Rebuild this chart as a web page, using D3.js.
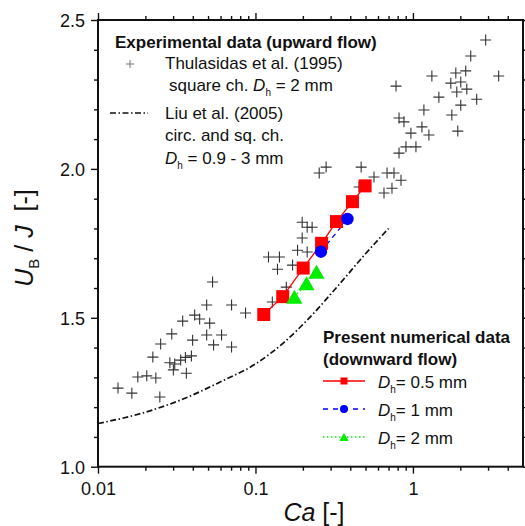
<!DOCTYPE html>
<html>
<head>
<meta charset="utf-8">
<script src="https://cdn.jsdelivr.net/npm/d3@7"></script>
<style>
  html, body { margin: 0; padding: 0; background: #fff; }
  svg { display: block; font-family: "Liberation Sans", Arial, sans-serif; }
</style>
</head>
<body>
<svg id="chart" width="525" height="526"></svg>
<script>
// Thulasidas et al. (1995), square channel, Dh = 2 mm
const thulasidasCa = [
  0.0134, 0.0164, 0.0179, 0.0204, 0.0233, 0.0247, 0.0223, 0.0250, 0.0294,
  0.0286, 0.0307, 0.0301, 0.0335, 0.0359, 0.0392, 0.0364, 0.0399, 0.0345,
  0.0411, 0.0442, 0.0512, 0.0490, 0.0542, 0.0609, 0.0705, 0.0490, 0.0534,
  0.0705, 0.0865, 0.128,
  0.121, 0.142, 0.138, 0.157, 0.172, 0.185, 0.213, 0.198, 0.198, 0.213,
  0.229, 0.254, 0.281, 0.455, 0.469, 0.566, 0.685, 0.758, 0.840, 0.736,
  0.655, 0.816, 0.903, 1.045, 0.971, 1.263, 0.816, 0.877, 1.140, 1.174,
  0.781, 1.319, 1.461, 1.766, 1.927, 2.013, 1.740, 1.899, 2.013, 2.198,
  1.872, 2.164, 2.541, 3.503, 2.328, 2.897
];
const thulasidasU = [
  1.264, 1.247, 1.301, 1.305, 1.298, 1.234, 1.368, 1.412, 1.446,
  1.349, 1.345, 1.325, 1.358, 1.367, 1.372, 1.314, 1.425, 1.489,
  1.509, 1.496, 1.482, 1.442, 1.409, 1.442, 1.402, 1.543, 1.620,
  1.543, 1.516, 1.553,
  1.704, 1.704, 1.663, 1.603, 1.677, 1.727, 1.721, 1.768, 1.821, 1.804,
  1.804, 1.986, 2.006, 1.939, 2.006, 1.973, 1.986, 1.986, 1.962, 1.935,
  1.919, 2.053, 2.074, 2.074, 2.120, 2.114, 2.171, 2.158, 2.141, 2.198,
  2.278, 2.312, 2.241, 2.181, 2.127, 2.214, 2.288, 2.258, 2.292, 2.268,
  2.322, 2.329, 2.234, 2.312, 2.379, 2.433
];

// Liu et al. (2005), circular and square channels
const liuCa = [0.01, 0.02, 0.035, 0.06, 0.1, 0.15, 0.22, 0.34, 0.5, 0.7];
const liuU = [1.145, 1.183, 1.228, 1.285, 1.345, 1.415, 1.50, 1.612, 1.715, 1.80];

// present numerical data (downward flow)
const dh05Ca = [0.1129, 0.149, 0.201, 0.263, 0.327, 0.413, 0.497];
const dh05U = [1.511, 1.571, 1.667, 1.750, 1.823, 1.890, 1.943];
const dh1Ca = [0.2605, 0.384];
const dh1U = [1.722, 1.832];
const dh2Ca = [0.1766, 0.211, 0.244];
const dh2U = [1.571, 1.616, 1.655];

const xTicks = [0.01, 0.1, 1];
const xTickLabels = ['0.01', '0.1', '1'];
const yTicks = [1.0, 1.5, 2.0, 2.5];
const yTickLabels = ['1.0', '1.5', '2.0', '2.5'];

const plotLeft = 98, plotRight = 523, plotTop = 20, plotBottom = 466.7;

const svg = d3.select('#chart');
const x = d3.scaleLog().domain([0.01, 5]).range([plotLeft, plotRight]);
const y = d3.scaleLinear().domain([1, 2.5]).range([plotBottom, plotTop]);

// minor ticks
const xMinor = [];
[0.01, 0.1, 1].forEach(dec => {
  d3.range(2, 10).forEach(k => {
    const v = dec * k;
    if (v < 5) xMinor.push(v);
  });
});
const yMinor = d3.range(11, 25).map(k => k / 10).filter(v => !yTicks.some(t => Math.abs(t - v) < 1e-9));

function styleAxis(g) {
  g.select('.domain').remove();
  g.selectAll('line').attr('stroke', '#111').attr('stroke-width', 1.4);
}

// bottom axis
svg.append('g').attr('transform', `translate(0,${plotBottom})`)
  .call(d3.axisBottom(x).tickValues(xMinor).tickSize(4).tickFormat(''))
  .call(styleAxis);
const xAxis = svg.append('g').attr('transform', `translate(0,${plotBottom})`)
  .call(d3.axisBottom(x).tickValues(xTicks).tickSize(7).tickFormat((d, i) => xTickLabels[i]))
  .call(styleAxis);
xAxis.selectAll('text')
  .attr('y', 28).attr('dy', 0)
  .attr('fill', '#111')
  .style('font-size', '18px')
  .style('font-family', '"Liberation Sans", Arial, sans-serif');

// top axis (ticks outward, no labels)
svg.append('g').attr('transform', `translate(0,${plotTop})`)
  .call(d3.axisTop(x).tickValues(xMinor).tickSize(4).tickFormat(''))
  .call(styleAxis);
svg.append('g').attr('transform', `translate(0,${plotTop})`)
  .call(d3.axisTop(x).tickValues(xTicks).tickSize(7).tickFormat(''))
  .call(styleAxis);

// left axis
svg.append('g').attr('transform', `translate(${plotLeft},0)`)
  .call(d3.axisLeft(y).tickValues(yMinor).tickSize(4).tickFormat(''))
  .call(styleAxis);
const yAxis = svg.append('g').attr('transform', `translate(${plotLeft},0)`)
  .call(d3.axisLeft(y).tickValues(yTicks).tickSize(7).tickFormat((d, i) => yTickLabels[i]))
  .call(styleAxis);
yAxis.selectAll('text')
  .attr('x', -13).attr('dy', '0.36em')
  .attr('fill', '#111')
  .style('font-size', '18px')
  .style('font-family', '"Liberation Sans", Arial, sans-serif');

// right axis (ticks inward)
svg.append('g').attr('transform', `translate(${plotRight},0)`)
  .call(d3.axisLeft(y).tickValues(yMinor).tickSize(-3).tickFormat(''))
  .call(styleAxis);
svg.append('g').attr('transform', `translate(${plotRight},0)`)
  .call(d3.axisLeft(y).tickValues(yTicks).tickSize(-6).tickFormat(''))
  .call(styleAxis);

// frame
svg.append('rect')
  .attr('x', plotLeft).attr('y', plotTop)
  .attr('width', plotRight - plotLeft).attr('height', plotBottom - plotTop)
  .attr('fill', 'none').attr('stroke', '#111').attr('stroke-width', 2);

// axis titles
svg.append('text')
  .attr('x', 314).attr('y', 521)
  .attr('text-anchor', 'middle')
  .style('font-size', '25px')
  .attr('fill', '#111')
  .call(t => {
    t.append('tspan').style('font-style', 'italic').text('Ca');
    t.append('tspan').text(' [-]');
  });

svg.append('text')
  .attr('transform', 'translate(33,238) rotate(-90)')
  .attr('text-anchor', 'middle')
  .style('font-size', '25px')
  .attr('fill', '#111')
  .call(t => {
    t.append('tspan').style('font-style', 'italic').text('U');
    t.append('tspan').style('font-size', '15px').attr('dy', 6).text('B');
    t.append('tspan').attr('dy', -6).text(' / ');
    t.append('tspan').style('font-style', 'italic').text('J');
    t.append('tspan').text('\u00a0\u00a0[-]');
  });

// Liu et al. curve
const liuData = liuCa.map((c, i) => [c, liuU[i]]);
svg.append('path')
  .datum(liuData)
  .attr('d', d3.line().x(d => x(d[0])).y(d => y(d[1])).curve(d3.curveMonotoneX))
  .attr('fill', 'none')
  .attr('stroke', '#111')
  .attr('stroke-width', 1.7)
  .attr('stroke-dasharray', '6,2.5,1.5,2.5');

// Thulasidas crosses
const thulData = thulasidasCa.map((c, i) => [c, thulasidasU[i]]);
svg.append('g').selectAll('path')
  .data(thulData)
  .join('path')
  .attr('transform', d => `translate(${x(d[0])},${y(d[1])})`)
  .attr('d', 'M-5.5,0H5.5M0,-5.5V5.5')
  .attr('stroke', '#333')
  .attr('stroke-width', 1.1)
  .attr('fill', 'none');

// numerical series
const line = d3.line().x(d => x(d[0])).y(d => y(d[1]));
const dh05 = dh05Ca.map((c, i) => [c, dh05U[i]]);
const dh1 = dh1Ca.map((c, i) => [c, dh1U[i]]);
const dh2 = dh2Ca.map((c, i) => [c, dh2U[i]]);

svg.append('path').datum(dh2).attr('d', line)
  .attr('fill', 'none').attr('stroke', '#00ee00').attr('stroke-width', 1.3)
  .attr('stroke-dasharray', '1.5,2.5');
svg.append('path').datum(dh1).attr('d', line)
  .attr('fill', 'none').attr('stroke', '#0000ff').attr('stroke-width', 1.3)
  .attr('stroke-dasharray', '5,4');
svg.append('path').datum(dh05).attr('d', line)
  .attr('fill', 'none').attr('stroke', '#ff0000').attr('stroke-width', 1.3);

const tri = s => `M0,${-s * 0.5}L${s * 0.58},${s * 0.5}L${-s * 0.58},${s * 0.5}Z`;

svg.append('g').selectAll('rect')
  .data(dh05).join('rect')
  .attr('x', d => x(d[0]) - 6.5).attr('y', d => y(d[1]) - 6.5)
  .attr('width', 13).attr('height', 13)
  .attr('fill', '#ff0000');
svg.append('g').selectAll('circle')
  .data(dh1).join('circle')
  .attr('cx', d => x(d[0])).attr('cy', d => y(d[1])).attr('r', 6.2)
  .attr('fill', '#0000ff');
svg.append('g').selectAll('path')
  .data(dh2).join('path')
  .attr('transform', d => `translate(${x(d[0])},${y(d[1])})`)
  .attr('d', tri(14))
  .attr('fill', '#00ee00');

// legend helpers
function addText(px, py, bold) {
  return svg.append('text')
    .attr('x', px).attr('y', py)
    .attr('fill', '#111')
    .style('font-size', '17px')
    .style('font-weight', bold ? 'bold' : 'normal');
}
function dh(t, rest) {
  t.append('tspan').style('font-style', 'italic').text('D');
  t.append('tspan').style('font-size', '10px').attr('dy', 5).text('h');
  t.append('tspan').attr('dy', -5).text(rest);
}

// experimental legend
addText(115, 48, true).text('Experimental data (upward flow)');
svg.append('path')
  .attr('transform', 'translate(130,64)')
  .attr('d', 'M-4,0H4M0,-4V4')
  .attr('stroke', '#777').attr('stroke-width', 1);
addText(165, 69).text('Thulasidas et al. (1995)');
addText(169, 91).call(t => {
  t.append('tspan').text('square ch. ');
  dh(t, ' = 2 mm');
});
svg.append('line')
  .attr('x1', 110).attr('x2', 148).attr('y1', 113).attr('y2', 113)
  .attr('stroke', '#111').attr('stroke-width', 1.5)
  .attr('stroke-dasharray', '6,2.5,1.5,2.5');
addText(165, 119).text('Liu et al. (2005)');
addText(165, 141).text('circ. and sq. ch.');
addText(165, 164).call(t => dh(t, ' = 0.9 - 3 mm'));

// numerical legend
addText(323, 343, true).text('Present numerical data');
addText(323, 365, true).text('(downward flow)');

const legendItems = [
  { y: 381, color: '#ff0000', dash: null, shape: 'square', label: '= 0.5 mm' },
  { y: 409, color: '#0000ff', dash: '5,5', shape: 'circle', label: '= 1 mm' },
  { y: 437, color: '#00ee00', dash: '1.5,2.5', shape: 'triangle', label: '= 2 mm' }
];
legendItems.forEach(item => {
  svg.append('line')
    .attr('x1', 323).attr('x2', 365).attr('y1', item.y).attr('y2', item.y)
    .attr('stroke', item.color).attr('stroke-width', 1.3)
    .attr('stroke-dasharray', item.dash);
  if (item.shape === 'square') {
    svg.append('rect').attr('x', 340.5).attr('y', item.y - 3.5)
      .attr('width', 7).attr('height', 7).attr('fill', item.color);
  } else if (item.shape === 'circle') {
    svg.append('circle').attr('cx', 344).attr('cy', item.y).attr('r', 4)
      .attr('fill', item.color);
  } else {
    svg.append('path').attr('transform', `translate(344,${item.y})`)
      .attr('d', tri(8)).attr('fill', item.color);
  }
  addText(378, item.y + 7).call(t => dh(t, item.label));
});
</script>
</body>
</html>
